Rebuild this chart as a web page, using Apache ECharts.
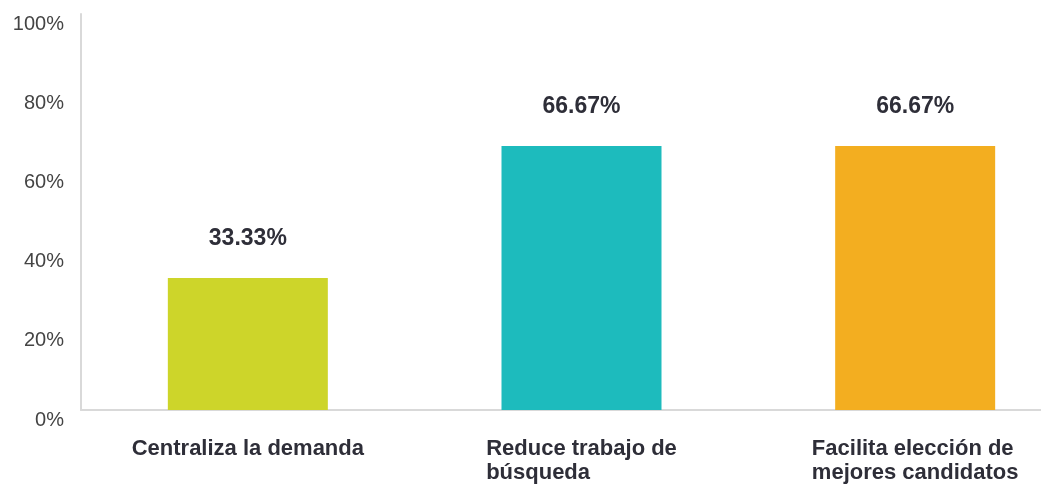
<!DOCTYPE html>
<html>
<head>
<meta charset="utf-8">
<script src="https://cdn.jsdelivr.net/npm/echarts@6/dist/echarts.min.js"></script>
<style>
  html, body { margin: 0; padding: 0; background: #fff; overflow: hidden; }
  /* plot runs past the right edge of the window, like the cropped original */
  #chart { width: 1082px; height: 484px; }
</style>
</head>
<body>
<div id="chart"></div>
<script>
const categories = ['Centraliza la demanda', 'Reduce trabajo de\nbúsqueda', 'Facilita elección de\nmejores candidatos']
const values = [33.33, 66.67, 66.67]
const barColors = ['#cdd52a', '#1dbbbd', '#f3ae20']
const yTicks = [0, 20, 40, 60, 80, 100]

const chart = echarts.init(document.getElementById('chart'))

chart.setOption({
  animation: false,
  textStyle: { fontFamily: 'Liberation Sans, Arial, sans-serif' },
  grid: {
    top: 14,
    left: 81,
    right: 0,
    bottom: 72,
    containLabel: false
  },
  xAxis: {
    type: 'category',
    data: categories,
    axisLine: { show: true, lineStyle: { color: '#d9d9d9', width: 2 } },
    axisTick: { show: false },
    axisLabel: {
      margin: 27,
      interval: 0,
      // left-align the wrapped lines inside a centred block
      formatter: v => v.split('\n').map(s => '{a|' + s + '}').join('\n'),
      rich: {
        a: {
          align: 'left',
          fontSize: 22,
          fontWeight: 'bold',
          lineHeight: 24,
          color: '#2e2e38',
          fontFamily: 'Liberation Sans, Arial, sans-serif'
        }
      }
    }
  },
  yAxis: {
    type: 'value',
    min: yTicks[0],
    max: yTicks[yTicks.length - 1],
    interval: 20,
    splitLine: { show: false },
    axisLine: { show: true, lineStyle: { color: '#d9d9d9', width: 2 } },
    axisTick: { show: false },
    axisLabel: {
      formatter: '{value}%',
      fontSize: 20,
      color: '#444',
      margin: 17,
      verticalAlign: 'top'
    }
  },
  series: [{
    type: 'bar',
    barWidth: 160,
    data: values.map((v, i) => ({ value: v, itemStyle: { color: barColors[i] } })),
    label: {
      show: true,
      position: 'top',
      distance: 28,
      fontSize: 23,
      fontWeight: 'bold',
      color: '#2e2e38',
      formatter: p => p.value.toFixed(2) + '%'
    }
  }]
})
</script>
</body>
</html>
